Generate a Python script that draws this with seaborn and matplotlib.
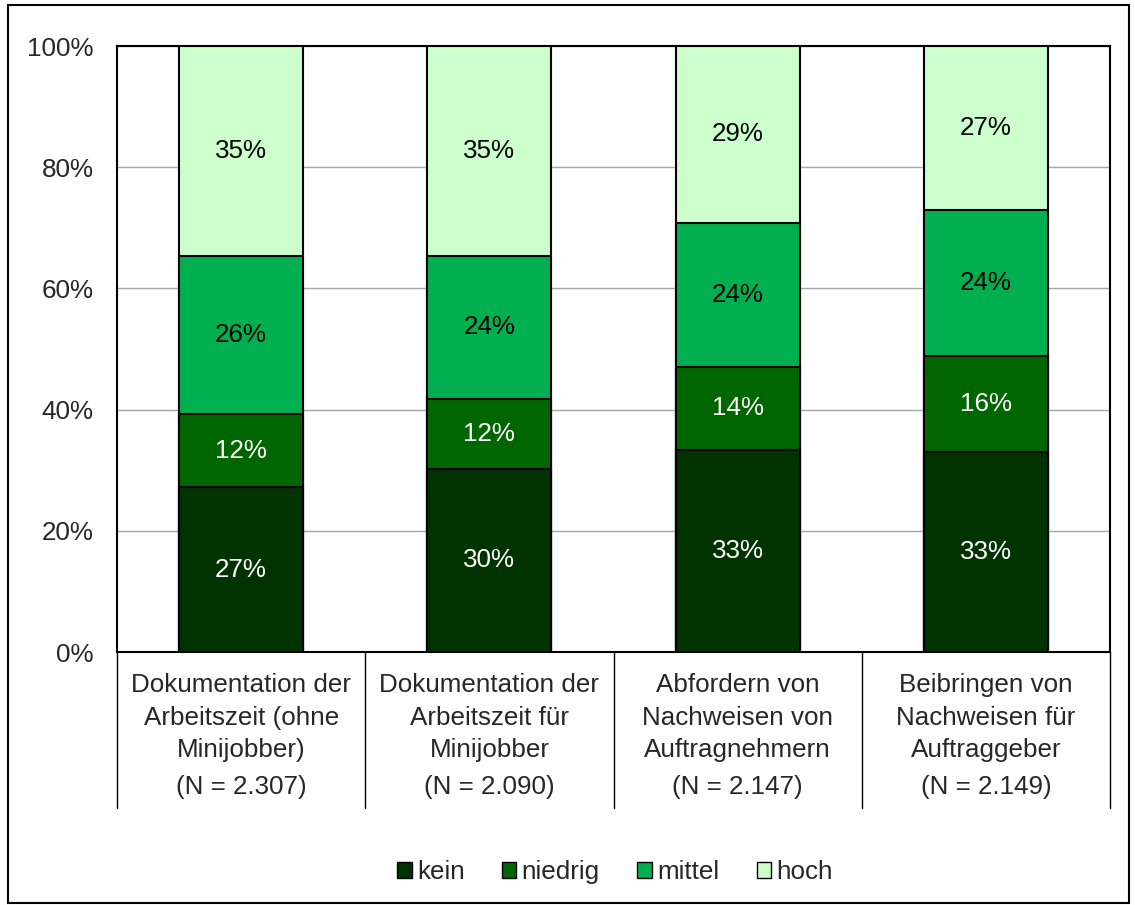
import pandas as pd
import matplotlib.pyplot as plt
import seaborn as sns
from matplotlib.patches import Patch, Rectangle
import matplotlib.transforms as mtransforms

# Daten (Anteile in %)
kategorien = ['Dokumentation der\nArbeitszeit (ohne\nMinijobber)',
              'Dokumentation der\nArbeitszeit für\nMinijobber',
              'Abfordern von\nNachweisen von\nAuftragnehmern',
              'Beibringen von\nNachweisen für\nAuftraggeber']
n_labels = ['(N = 2.307)', '(N = 2.090)', '(N = 2.147)', '(N = 2.149)']
stufen = ['kein', 'niedrig', 'mittel', 'hoch']
kein = [27.2, 30.2, 33.4, 33.0]
niedrig = [12.1, 11.6, 13.6, 15.8]
mittel = [26.0, 23.6, 23.8, 24.1]
hoch = [34.7, 34.6, 29.2, 27.1]
farben = ['#003300', '#006600', '#00B050', '#CCFFCC']
textfarben = ['white', 'white', 'black', 'black']

df = pd.DataFrame({'Kategorie': kategorien, 'kein': kein, 'niedrig': niedrig,
                   'mittel': mittel, 'hoch': hoch})
kum = df[stufen].cumsum(axis=1)

sns.set_style('white')
plt.rcParams['font.family'] = ['Liberation Sans', 'DejaVu Sans']
fs = 18.7

fig = plt.figure(figsize=(11.35, 9.05), dpi=100)
ax = fig.add_axes([117 / 1135, 1 - 652 / 905, (1110 - 117) / 1135, (652 - 46) / 905])

# gestapelte Balken: kumulierte Werte von oben nach unten zeichnen
for stufe, farbe in reversed(list(zip(stufen, farben))):
    sns.barplot(data=kum.assign(Kategorie=kategorien), x='Kategorie', y=stufe,
                color=farbe, width=0.5, edgecolor='black', linewidth=1.5,
                saturation=1, ax=ax, zorder=3)

# Beschriftungen in der Mitte der Segmente
for i in range(len(kategorien)):
    unten = 0
    for stufe, tf in zip(stufen, textfarben):
        wert = df[stufe][i]
        ax.text(i, unten + wert / 2, f'{round(wert):.0f}%', ha='center', va='center',
                fontsize=fs, color=tf, zorder=5)
        unten += wert

ax.set_ylim(0, 100)
ax.set_xlim(-0.5, len(kategorien) - 0.5)
ax.set_yticks(range(0, 101, 20))
ax.set_yticklabels([f'{v}%' for v in range(0, 101, 20)], fontsize=fs)
ax.set_xticks(range(len(kategorien)))
ax.set_xticklabels(kategorien, fontsize=fs, linespacing=1.46)
ax.tick_params(axis='both', length=0)
ax.tick_params(axis='y', pad=17)
ax.tick_params(axis='x', pad=15)
ax.set_xlabel('')
ax.set_ylabel('')
ax.grid(axis='y', color='#A6A6A6', linewidth=1, zorder=0)
ax.set_axisbelow(True)
for sp in ax.spines.values():
    sp.set_visible(True)
    sp.set_color('black')
    sp.set_linewidth(1.5)

# N-Angaben und Trennlinien unter der Achse
trans = mtransforms.blended_transform_factory(ax.transData, ax.transAxes)
for i, n in enumerate(n_labels):
    ax.text(i, -(787 - 652) / 606, n, ha='center', va='center', fontsize=fs,
            transform=trans)
for x in [i - 0.5 for i in range(len(kategorien) + 1)]:
    ax.plot([x, x], [0, -(808 - 652) / 606], color='black', linewidth=1,
            transform=trans, clip_on=False)

# Legende
handles = [Patch(facecolor=f, edgecolor='black', linewidth=1) for f in farben]
fig.legend(handles, stufen, loc='center', bbox_to_anchor=(615 / 1135, 1 - 872 / 905),
           ncol=4, frameon=False, fontsize=fs, handlelength=0.55, handleheight=0.55,
           handletextpad=0.2, columnspacing=1.45)

# Rahmen um die Grafik
fig.patches.append(Rectangle((8 / 1135, 2 / 905), (1129 - 8) / 1135, (903 - 5) / 905,
                             transform=fig.transFigure, fill=False,
                             edgecolor='black', linewidth=1.5))

fig.savefig('out.png', dpi=100)
